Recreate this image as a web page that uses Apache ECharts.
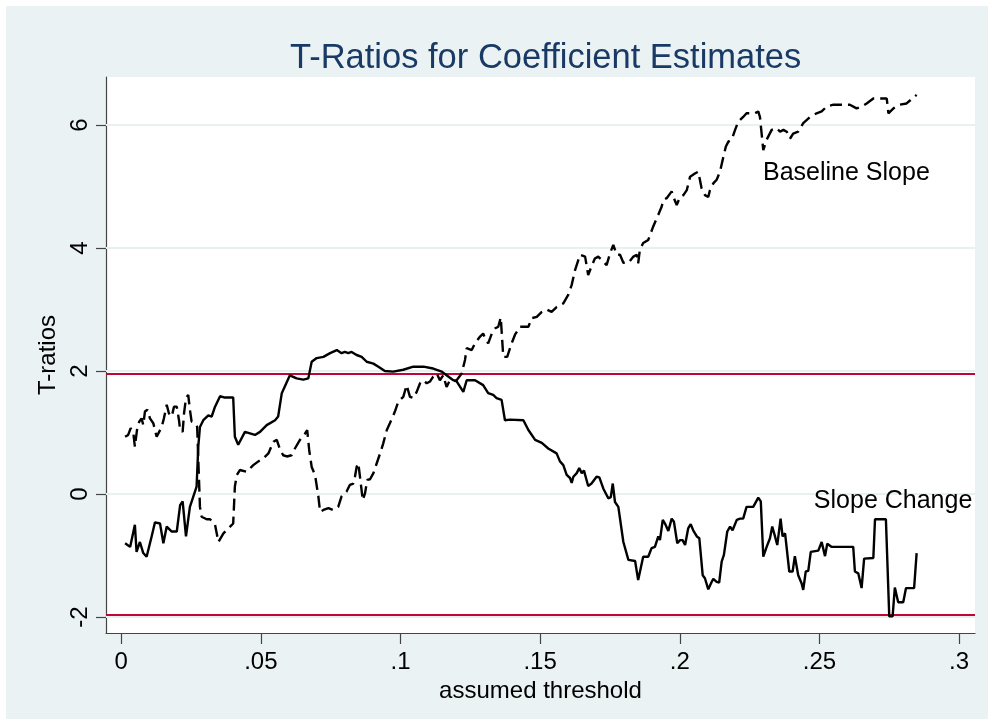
<!DOCTYPE html>
<html>
<head>
<meta charset="utf-8">
<title>T-Ratios for Coefficient Estimates</title>
<script src="https://cdn.jsdelivr.net/npm/echarts@6/dist/echarts.min.js"></script>
<style>
  html, body { margin: 0; padding: 0; background: #fff; }
  #chart { width: 994px; height: 725px; }
</style>
</head>
<body>
<div id="chart"></div>
<script>
// tick values
var xTicks = [0, 0.05, 0.1, 0.15, 0.2, 0.25, 0.3];
var yTicks = [-2, 0, 2, 4, 6];
var critVals = [1.96, -1.96];

// Slope Change (solid line)
var changeX = [0.0014, 0.0032, 0.0049, 0.0055, 0.0067, 0.0079, 0.0091, 0.0109, 0.0121, 0.0139,
  0.0151, 0.0163, 0.0181, 0.0199, 0.0211, 0.0220, 0.0232, 0.0246, 0.0270, 0.0276,
  0.0282, 0.0294, 0.0312, 0.0324, 0.0336, 0.0354, 0.0368, 0.0401, 0.0407, 0.0419,
  0.0443, 0.0479, 0.0497, 0.0521, 0.0551, 0.0562, 0.0575, 0.0604, 0.0628, 0.0652,
  0.0670, 0.0682, 0.0700, 0.0724, 0.0748, 0.0772, 0.0789, 0.0801, 0.0813, 0.0825,
  0.0843, 0.0861, 0.0879, 0.0903, 0.0921, 0.0944, 0.0974, 0.1010, 0.1046, 0.1082,
  0.1117, 0.1148, 0.1165, 0.1189, 0.1201, 0.1225, 0.1237, 0.1267, 0.1296, 0.1314,
  0.1332, 0.1344, 0.1362, 0.1374, 0.1392, 0.1440, 0.1458, 0.1482, 0.1506, 0.1529,
  0.1559, 0.1571, 0.1583, 0.1595, 0.1607, 0.1613, 0.1619, 0.1631, 0.1640, 0.1649,
  0.1657, 0.1672, 0.1684, 0.1702, 0.1712, 0.1726, 0.1744, 0.1753, 0.1760, 0.1768,
  0.1780, 0.1798, 0.1816, 0.1822, 0.1840, 0.1851, 0.1869, 0.1887, 0.1899, 0.1911,
  0.1923, 0.1929, 0.1939, 0.1947, 0.1959, 0.1971, 0.1979, 0.1991, 0.2001, 0.2010,
  0.2019, 0.2030, 0.2039, 0.2048, 0.2061, 0.2070, 0.2082, 0.2090, 0.2102, 0.2114,
  0.2120, 0.2132, 0.2141, 0.2150, 0.2158, 0.2170, 0.2180, 0.2189, 0.2204, 0.2216,
  0.2227, 0.2239, 0.2263, 0.2281, 0.2290, 0.2299, 0.2311, 0.2317, 0.2323, 0.2331,
  0.2341, 0.2349, 0.2361, 0.2368, 0.2377, 0.2392, 0.2404, 0.2412, 0.2424, 0.2436,
  0.2442, 0.2451, 0.2460, 0.2469, 0.2496, 0.2508, 0.2520, 0.2528, 0.2544, 0.2621,
  0.2627, 0.2639, 0.2651, 0.2660, 0.2693, 0.2699, 0.2738, 0.2750, 0.2762, 0.2770,
  0.2782, 0.2800, 0.2810, 0.2839, 0.2848];
var changeT = [-0.80, -0.86, -0.50, -0.94, -0.78, -0.96, -1.02, -0.69, -0.46, -0.48,
  -0.80, -0.53, -0.61, -0.61, -0.18, -0.12, -0.69, -0.21, 0.12, 0.77,
  1.09, 1.20, 1.28, 1.26, 1.42, 1.59, 1.57, 1.57, 0.93, 0.80,
  1.01, 0.96, 1.01, 1.12, 1.20, 1.26, 1.64, 1.93, 1.88, 1.86,
  1.88, 2.15, 2.21, 2.23, 2.29, 2.34, 2.29, 2.31, 2.29, 2.31,
  2.26, 2.23, 2.15, 2.12, 2.07, 2.00, 1.99, 2.02, 2.07, 2.07,
  2.04, 1.99, 1.93, 1.85, 1.83, 1.66, 1.85, 1.85, 1.77, 1.64,
  1.61, 1.56, 1.53, 1.20, 1.21, 1.20, 1.04, 0.88, 0.83, 0.74,
  0.66, 0.53, 0.47, 0.31, 0.26, 0.18, 0.28, 0.34, 0.42, 0.34,
  0.38, 0.13, 0.17, 0.28, 0.27, 0.09, -0.07, -0.05, 0.17, -0.13,
  -0.21, -0.78, -1.07, -1.10, -1.09, -1.40, -1.02, -1.02, -0.88, -0.86,
  -0.69, -0.75, -0.42, -0.48, -0.60, -0.40, -0.45, -0.80, -0.75, -0.75,
  -0.83, -0.56, -0.49, -0.59, -0.69, -0.72, -1.32, -1.37, -1.55, -1.43,
  -1.38, -1.43, -1.44, -1.10, -0.99, -0.61, -0.53, -0.59, -0.42, -0.40,
  -0.40, -0.21, -0.21, -0.06, -0.12, -1.02, -0.86, -0.86, -0.72, -0.53,
  -0.69, -0.83, -0.40, -0.69, -0.64, -1.26, -1.26, -1.01, -1.32, -1.45,
  -1.56, -1.26, -1.25, -0.94, -0.92, -0.78, -1.01, -0.81, -0.86, -0.86,
  -1.26, -1.29, -1.53, -1.05, -1.04, -0.41, -0.41, -1.99, -1.99, -1.52,
  -1.76, -1.76, -1.53, -1.53, -0.96];

// Baseline Slope (dashed line)
var baseX = [0.0014, 0.0025, 0.0034, 0.0043, 0.0049, 0.0058, 0.0065, 0.0073, 0.0079, 0.0085,
  0.0094, 0.0103, 0.0115, 0.0127, 0.0145, 0.0153, 0.0163, 0.0171, 0.0181, 0.0189,
  0.0199, 0.0207, 0.0211, 0.0220, 0.0225, 0.0232, 0.0240, 0.0246, 0.0252, 0.0264,
  0.0272, 0.0282, 0.0288, 0.0306, 0.0318, 0.0336, 0.0348, 0.0366, 0.0390, 0.0401,
  0.0407, 0.0414, 0.0425, 0.0449, 0.0473, 0.0491, 0.0509, 0.0527, 0.0545, 0.0557,
  0.0569, 0.0580, 0.0593, 0.0610, 0.0622, 0.0640, 0.0658, 0.0666, 0.0673, 0.0682,
  0.0694, 0.0700, 0.0706, 0.0712, 0.0724, 0.0742, 0.0759, 0.0777, 0.0789, 0.0807,
  0.0819, 0.0831, 0.0837, 0.0843, 0.0849, 0.0855, 0.0865, 0.0873, 0.0881, 0.0891,
  0.0903, 0.0915, 0.0927, 0.0938, 0.0951, 0.0962, 0.0980, 0.0992, 0.1010, 0.1022,
  0.1034, 0.1046, 0.1058, 0.1070, 0.1082, 0.1094, 0.1106, 0.1117, 0.1130, 0.1141,
  0.1153, 0.1165, 0.1177, 0.1189, 0.1201, 0.1219, 0.1231, 0.1237, 0.1255, 0.1267,
  0.1285, 0.1296, 0.1303, 0.1314, 0.1327, 0.1338, 0.1350, 0.1359, 0.1368, 0.1382,
  0.1398, 0.1410, 0.1428, 0.1446, 0.1458, 0.1470, 0.1488, 0.1506, 0.1523, 0.1541,
  0.1559, 0.1583, 0.1601, 0.1613, 0.1625, 0.1643, 0.1661, 0.1672, 0.1684, 0.1696,
  0.1708, 0.1726, 0.1738, 0.1750, 0.1762, 0.1774, 0.1786, 0.1798, 0.1816, 0.1834,
  0.1846, 0.1851, 0.1857, 0.1869, 0.1887, 0.1905, 0.1923, 0.1935, 0.1941, 0.1953,
  0.1971, 0.1977, 0.1989, 0.2001, 0.2013, 0.2025, 0.2037, 0.2054, 0.2066, 0.2072,
  0.2078, 0.2090, 0.2102, 0.2108, 0.2120, 0.2132, 0.2144, 0.2156, 0.2165, 0.2174,
  0.2186, 0.2198, 0.2209, 0.2227, 0.2239, 0.2269, 0.2281, 0.2287, 0.2299, 0.2311,
  0.2317, 0.2329, 0.2347, 0.2359, 0.2371, 0.2383, 0.2395, 0.2406, 0.2424, 0.2442,
  0.2454, 0.2466, 0.2490, 0.2508, 0.2526, 0.2550, 0.2609, 0.2633, 0.2651, 0.2669,
  0.2693, 0.2741, 0.2747, 0.2765, 0.2788, 0.2812, 0.2848];
var baseT = [0.93, 0.96, 1.07, 1.01, 0.77, 1.09, 1.18, 1.23, 1.12, 1.34,
  1.37, 1.23, 1.15, 0.93, 1.09, 1.23, 1.45, 1.31, 1.26, 1.42,
  1.42, 1.20, 1.04, 1.01, 1.31, 1.56, 1.61, 1.37, 1.18, 1.15,
  1.09, -0.21, -0.37, -0.41, -0.41, -0.50, -0.78, -0.64, -0.53, -0.48,
  0.12, 0.31, 0.39, 0.36, 0.47, 0.53, 0.58, 0.66, 0.85, 0.88,
  0.72, 0.63, 0.61, 0.63, 0.74, 0.88, 0.98, 1.04, 0.72, 0.44,
  0.31, 0.28, -0.04, -0.29, -0.26, -0.23, -0.26, -0.21, -0.04, 0.04,
  0.15, 0.17, 0.28, 0.44, 0.50, 0.28, -0.10, 0.01, 0.23, 0.24,
  0.34, 0.50, 0.66, 0.82, 1.04, 1.15, 1.34, 1.50, 1.58, 1.77,
  1.58, 1.56, 1.66, 1.80, 1.85, 1.80, 1.83, 1.91, 1.96, 1.85,
  1.93, 1.74, 1.85, 1.83, 1.85, 1.96, 2.18, 2.37, 2.34, 2.45,
  2.56, 2.61, 2.53, 2.45, 2.61, 2.69, 2.72, 2.87, 2.23, 2.23,
  2.45, 2.59, 2.72, 2.72, 2.72, 2.86, 2.88, 2.96, 3.00, 2.96,
  3.04, 3.10, 3.24, 3.40, 3.64, 3.89, 3.86, 3.56, 3.70, 3.83,
  3.86, 3.78, 3.72, 3.91, 4.05, 3.89, 3.89, 3.76, 3.76, 3.86,
  3.89, 3.75, 3.97, 4.08, 4.13, 4.35, 4.54, 4.67, 4.78, 4.81,
  4.92, 4.83, 4.70, 4.83, 4.86, 4.94, 5.16, 5.21, 5.24, 5.11,
  4.97, 4.86, 4.83, 4.94, 5.05, 5.11, 5.24, 5.48, 5.65, 5.73,
  5.76, 5.92, 6.05, 6.13, 6.19, 6.19, 6.22, 6.13, 5.59, 5.76,
  5.78, 5.92, 5.95, 5.89, 5.92, 5.89, 5.78, 5.86, 5.89, 6.03,
  6.08, 6.13, 6.19, 6.22, 6.30, 6.33, 6.33, 6.27, 6.30, 6.35,
  6.43, 6.43, 6.19, 6.27, 6.33, 6.35, 6.49];

function zip(xs, ys) {
    var out = [];
    for (var i = 0; i < xs.length; i++) out.push([xs[i], ys[i]]);
    return out;
}

function stataNum(v) {
    // Stata style: .05 instead of 0.05
    var s = String(Math.round(v * 1000) / 1000);
    return s.replace(/^0\./, '.').replace(/^-0\./, '-.');
}

var font = 'Liberation Sans, Arial, Helvetica, sans-serif';
var chart = echarts.init(document.getElementById('chart'));

var refLines = [];
yTicks.forEach(function (v) {
    refLines.push({ yAxis: v, lineStyle: { color: '#E8F0F1', width: 2, type: 'solid' } });
});
critVals.forEach(function (v) {
    refLines.push({ yAxis: v, lineStyle: { color: '#C10534', width: 2.2, type: 'solid' } });
});

var option = {
    backgroundColor: '#fff',
    animation: false,
    graphic: [{
        type: 'rect', z: -10, silent: true,
        shape: { x: 6, y: 6, width: 982, height: 713 },
        style: { fill: '#EAF2F3' }
    }],
    title: {
        text: 'T-Ratios for Coefficient Estimates',
        left: 285,
        top: 36,
        textStyle: { color: '#1A3A66', fontSize: 34.5, fontWeight: 'normal', fontFamily: font }
    },
    grid: {
        left: 106, right: 19, top: 77, bottom: 92,
        show: true, backgroundColor: '#fff', borderWidth: 0
    },
    xAxis: {
        type: 'value',
        min: -0.00544,
        max: 0.3057,
        name: 'assumed threshold',
        nameLocation: 'middle',
        nameGap: 40,
        nameTextStyle: { color: '#000', fontSize: 24, fontFamily: font },
        axisLine: { show: true, onZero: false, lineStyle: { color: '#444', width: 1.2 } },
        axisTick: { show: true, length: 11, customValues: xTicks, lineStyle: { color: '#444', width: 1.2 } },
        axisLabel: {
            customValues: xTicks, color: '#000', fontSize: 24, fontFamily: font, margin: 17,
            formatter: function (v) { return stataNum(v); }
        },
        splitLine: { show: false }
    },
    yAxis: {
        type: 'value',
        min: -2.26,
        max: 6.78,
        name: 'T-ratios',
        nameLocation: 'middle',
        nameRotate: 90,
        nameGap: 46,
        nameTextStyle: { color: '#000', fontSize: 24, fontFamily: font },
        axisLine: { show: true, onZero: false, lineStyle: { color: '#444', width: 1.2 } },
        axisTick: { show: true, length: 10, customValues: yTicks, lineStyle: { color: '#444', width: 1.2 } },
        axisLabel: {
            customValues: yTicks, rotate: 90, color: '#000', fontSize: 24, fontFamily: font, margin: 14,
            formatter: function (v) { return stataNum(v); }
        },
        splitLine: { show: false }
    },
    series: [
        {
            name: 'refs',
            type: 'line',
            z: 1,
            data: [],
            silent: true,
            markLine: { silent: true, z: 1, symbol: 'none', label: { show: false }, data: refLines }
        },
        {
            name: 'Slope Change',
            type: 'line',
            z: 3,
            data: zip(changeX, changeT),
            showSymbol: false,
            symbol: 'none',
            lineStyle: { color: '#000', width: 2.4, type: 'solid' }
        },
        {
            name: 'Baseline Slope',
            type: 'line',
            z: 3,
            data: zip(baseX, baseT),
            showSymbol: false,
            symbol: 'none',
            lineStyle: { color: '#000', width: 2.4, type: [12, 6] }
        },
        {
            name: 'labels',
            type: 'scatter',
            z: 6,
            symbolSize: 0,
            silent: true,
            itemStyle: { opacity: 1 },
            label: {
                show: true, position: 'right', distance: 0,
                color: '#000', fontSize: 25, fontFamily: font,
                formatter: function (p) { return p.name; }
            },
            data: [
                { name: 'Baseline Slope', value: [0.2298, 5.22] },
                { name: 'Slope Change', value: [0.2480, -0.11] }
            ]
        }
    ]
};

chart.setOption(option);
</script>
</body>
</html>
